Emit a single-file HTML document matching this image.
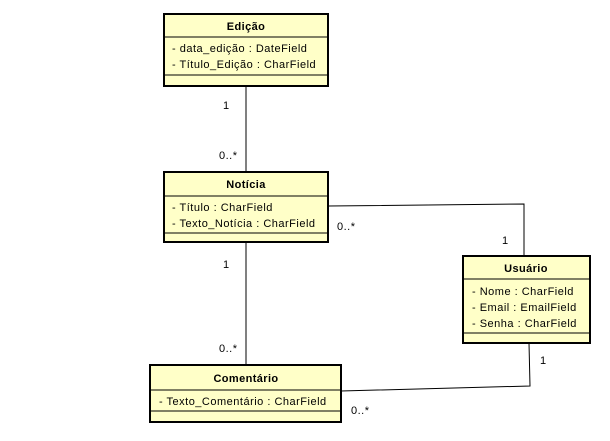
<!DOCTYPE html>
<html><head><meta charset="utf-8"><style>
html,body{margin:0;padding:0;background:#fff;width:610px;height:441px;overflow:hidden}
svg text{font-family:"Liberation Sans",sans-serif;font-size:11px;fill:#000;letter-spacing:0.5px}
.t{font-weight:bold;text-anchor:middle;letter-spacing:0.4px}
</style></head><body>
<svg width="610" height="441" xmlns="http://www.w3.org/2000/svg">
<g stroke="#000" stroke-width="1" fill="none">
<line x1="246" y1="86" x2="246" y2="172"/>
<line x1="246" y1="242" x2="246" y2="365"/>
<polyline points="328,206 524,204 524,255"/>
<polyline points="341,391 530,386 529,343"/>
</g>
<g fill="#FFFFC8" stroke="#000">
<rect x="164" y="14" width="164" height="72" stroke-width="2"/>
<line x1="164" y1="37" x2="328" y2="37"/>
<line x1="164" y1="75" x2="328" y2="75"/>
<rect x="164" y="172" width="164" height="70" stroke-width="2"/>
<line x1="164" y1="196" x2="328" y2="196"/>
<line x1="164" y1="233" x2="328" y2="233"/>
<rect x="150" y="365" width="191" height="57" stroke-width="2"/>
<line x1="150" y1="390" x2="341" y2="390"/>
<line x1="150" y1="411" x2="341" y2="411"/>
<rect x="463" y="256" width="127" height="87" stroke-width="2"/>
<line x1="463" y1="279" x2="590" y2="279"/>
<line x1="463" y1="333" x2="590" y2="333"/>
</g>
<text class="t" x="246" y="30">Edição</text>
<text x="172" y="52">- data_edição : DateField</text>
<text x="172" y="68">- Título_Edição : CharField</text>
<text class="t" x="246" y="188">Notícia</text>
<text x="172" y="211">- Título : CharField</text>
<text x="172" y="227">- Texto_Notícia : CharField</text>
<text class="t" x="246" y="382">Comentário</text>
<text x="159" y="405">- Texto_Comentário : CharField</text>
<text class="t" x="526" y="272">Usuário</text>
<text x="472" y="295">- Nome : CharField</text>
<text x="472" y="311">- Email : EmailField</text>
<text x="472" y="327">- Senha : CharField</text>
<text x="223" y="109">1</text>
<text x="219" y="159">0..*</text>
<text x="337" y="230">0..*</text>
<text x="502" y="244">1</text>
<text x="223" y="268">1</text>
<text x="219" y="352">0..*</text>
<text x="540" y="364">1</text>
<text x="351" y="414">0..*</text>
</svg>
</body></html>
